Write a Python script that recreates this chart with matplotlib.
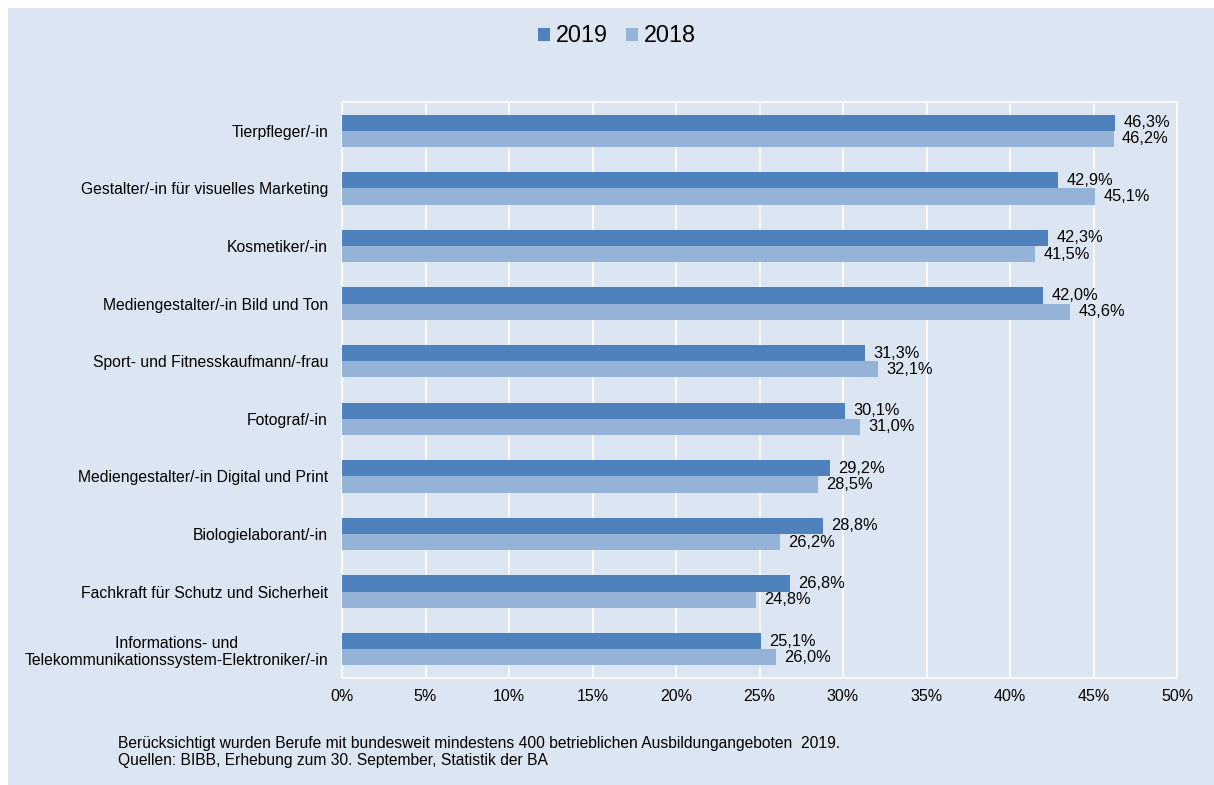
import matplotlib
matplotlib.use("Agg")
import matplotlib.pyplot as plt
from matplotlib.patches import Rectangle
import numpy as np

plt.rcParams['font.family'] = ['Liberation Sans', 'DejaVu Sans']

categories = [
    "Tierpfleger/-in",
    "Gestalter/-in für visuelles Marketing",
    "Kosmetiker/-in",
    "Mediengestalter/-in Bild und Ton",
    "Sport- und Fitnesskaufmann/-frau",
    "Fotograf/-in",
    "Mediengestalter/-in Digital und Print",
    "Biologielaborant/-in",
    "Fachkraft für Schutz und Sicherheit",
    "Informations- und\nTelekommunikationssystem-Elektroniker/-in",
]
values_2019 = [46.3, 42.9, 42.3, 42.0, 31.3, 30.1, 29.2, 28.8, 26.8, 25.1]
values_2018 = [46.2, 45.1, 41.5, 43.6, 32.1, 31.0, 28.5, 26.2, 24.8, 26.0]
xticks = [0, 5, 10, 15, 20, 25, 30, 35, 40, 45, 50]
note = ("Berücksichtigt wurden Berufe mit bundesweit mindestens 400 betrieblichen Ausbildungangeboten  2019.\n"
        "Quellen: BIBB, Erhebung zum 30. September, Statistik der BA")

bg = "#DCE6F2"
c2019 = "#4F81BD"
c2018 = "#95B3D7"

W, H = 1214, 785
fig = plt.figure(figsize=(W / 100, H / 100), dpi=100, facecolor="white")
fig.patches.append(Rectangle((8 / W, 0), 1 - 8 / W, 1 - 8 / H, transform=fig.transFigure,
                             facecolor=bg, edgecolor="none", zorder=-10))

ax = fig.add_axes([342 / W, 1 - 678 / H, (1177 - 342) / W, (678 - 102) / H])
ax.set_facecolor(bg)

n = len(categories)
y = np.arange(n)
h = 0.28
ax.barh(y - h / 2, values_2019, height=h, color=c2019, label="2019", zorder=3)
ax.barh(y + h / 2, values_2018, height=h, color=c2018, label="2018", zorder=3)

fs = 11.8
for yi, v in zip(y, values_2019):
    ax.text(v + 0.5, yi - h / 2, f"{v:.1f}%".replace(".", ","), va="center", ha="left",
            fontsize=fs, color="#000000")
for yi, v in zip(y, values_2018):
    ax.text(v + 0.5, yi + h / 2, f"{v:.1f}%".replace(".", ","), va="center", ha="left",
            fontsize=fs, color="#000000")

ax.set_xlim(0, 50)
ax.set_ylim(n - 0.5, -0.5)
ax.set_xticks(xticks)
ax.set_xticklabels([f"{t}%" for t in xticks], fontsize=11.5)
ax.set_yticks(y)
ax.set_yticklabels(categories, fontsize=11.3, ha="right", multialignment="center")
ax.tick_params(axis="y", length=0, pad=10)
ax.tick_params(axis="x", length=0, pad=8)
ax.grid(axis="x", color="white", linewidth=1.2, zorder=0)
for s in ax.spines.values():
    s.set_color("white")
    s.set_linewidth(1.2)

handles, labels = ax.get_legend_handles_labels()
fig.legend(handles, labels, loc="center", bbox_to_anchor=(617 / W, 1 - 36 / H), ncol=2,
           frameon=False, fontsize=16.8, handlelength=0.5, handleheight=0.5,
           handletextpad=0.25, columnspacing=0.8)

fig.text(118 / W, 1 - 752 / H, note, fontsize=11.25, va="center", ha="left", linespacing=1.2)

fig.savefig("out.png", dpi=100, facecolor="white")
